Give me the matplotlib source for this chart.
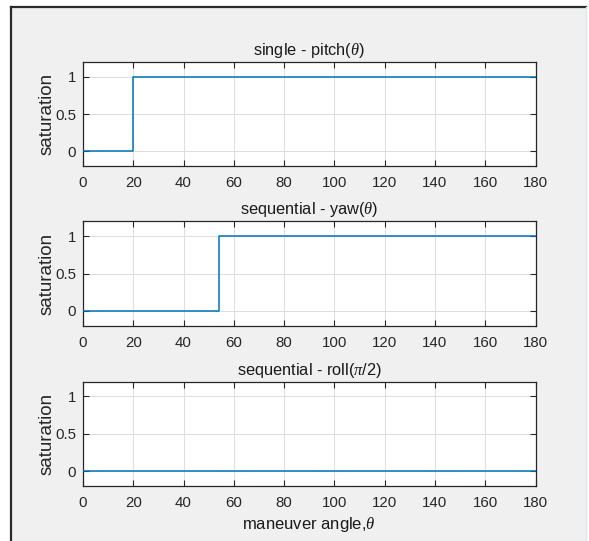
import matplotlib
matplotlib.use("Agg")
import matplotlib.pyplot as plt
from matplotlib.patches import Rectangle
from matplotlib.lines import Line2D

# Saturation flags versus maneuver angle (degrees) for three maneuver types
titles = [r"single - pitch($\theta$)",
          r"sequential - yaw($\theta$)",
          r"sequential - roll($\pi$/2)"]
pitch_theta = [0, 20, 20, 180]
pitch_sat = [0, 0, 1, 1]
yaw_theta = [0, 54, 54, 180]
yaw_sat = [0, 0, 1, 1]
roll_theta = [0, 180]
roll_sat = [0, 0]

x_ticks = [0, 20, 40, 60, 80, 100, 120, 140, 160, 180]
y_ticks = [0, 0.5, 1]
y_tick_labels = ["0", "0.5", "1"]
y_label = "saturation"
x_label = r"maneuver angle,$\theta$"

plt.rcParams["font.family"] = ["Liberation Sans", "DejaVu Sans"]
plt.rcParams["mathtext.fontset"] = "custom"
plt.rcParams["mathtext.rm"] = "Liberation Sans"
plt.rcParams["mathtext.it"] = "Liberation Serif:italic"

W, H = 589, 541
fig = plt.figure(figsize=(W / 100, H / 100), dpi=100, facecolor="white")

# window panel behind the axes
fig.patches.append(Rectangle((11 / W, -0.01), (586 - 11) / W, 1.01 - 7 / H,
                             transform=fig.transFigure, facecolor="#f0f0f0",
                             edgecolor="none", zorder=-10))
fig.lines.append(Line2D([11 / W, 11 / W], [0, 1 - 7 / H], transform=fig.transFigure,
                        color="#2a2a2a", lw=1.6))
fig.lines.append(Line2D([11 / W, 586 / W], [1 - 7 / H, 1 - 7 / H], transform=fig.transFigure,
                        color="#2a2a2a", lw=1.6))
fig.lines.append(Line2D([586 / W, 586 / W], [0, 1 - 7 / H], transform=fig.transFigure,
                        color="#dbe6f0", lw=1.0))

left, right = 83, 535.5
panels = [(62, 166), (221, 326), (381.5, 486)]
series = [(pitch_theta, pitch_sat), (yaw_theta, yaw_sat), (roll_theta, roll_sat)]

text_color = "#262626"
for (top, bottom), (xs, ys), title in zip(panels, series, titles):
    ax = fig.add_axes([left / W, 1 - bottom / H, (right - left) / W, (bottom - top) / H])
    ax.set_facecolor("white")
    ax.plot(xs, ys, color="#0072BD", lw=1.1, zorder=3)
    ax.set_xlim(0, 180)
    ax.set_ylim(-0.2, 1.2)
    ax.set_xticks(x_ticks)
    ax.set_yticks(y_ticks)
    ax.set_yticklabels(y_tick_labels)
    ax.grid(True, color="#dcdcdc", lw=0.7, zorder=0)
    ax.set_axisbelow(True)
    ax.tick_params(direction="in", length=4.5, width=0.8, top=True, right=True,
                   colors=text_color, labelsize=10.8)
    ax.tick_params(axis="x", pad=7.5)
    ax.tick_params(axis="y", pad=5)
    for s in ax.spines.values():
        s.set_color(text_color)
        s.set_linewidth(0.9)
    ax.set_ylabel(y_label, fontsize=13.5, color=text_color, labelpad=0)
    ax.set_title(title, fontsize=11.8, color="#1a1a1a", pad=5)

ax.set_xlabel(x_label, fontsize=12, color="#1a1a1a", labelpad=3)

fig.savefig("out.png", dpi=100, facecolor=fig.get_facecolor())
